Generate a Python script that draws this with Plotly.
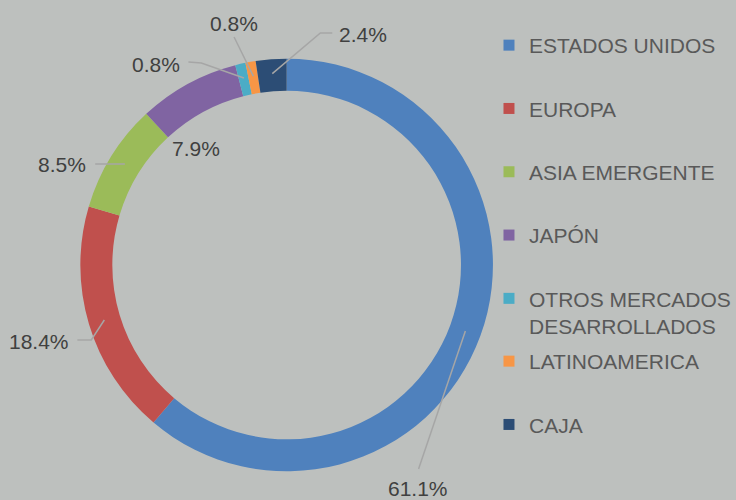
import math
import plotly.graph_objects as go

# ---- data ----
categories = ["ESTADOS UNIDOS", "EUROPA", "ASIA EMERGENTE", "JAPÓN",
              "OTROS MERCADOS<br>DESARROLLADOS", "LATINOAMERICA", "CAJA"]
values = [61.1, 18.4, 8.5, 7.9, 0.8, 0.8, 2.4]
colors = ["#4F81BD", "#C0504D", "#9BBB59", "#8064A2", "#4BACC6", "#F79646", "#2C4D75"]

# ---- layout helpers (pixel positions of value labels and leader lines) ----
label_pos = [(421, 488), (39, 341), (63, 164), (198, 148), (157, 64), (236, 23), (366, 34)]
leader_start = [(422, 469), (78, 340), (96, 164), None, (190, 62), (236, 37), (335, 33)]
leader_elbow = [None, (92, 340), None, None, (203, 63), None, (323, 33)]

W, H = 736, 500
cx, cy, R = 289, 265, 208
hole = 0.845
bg = "#BDC0BE"
FONT = "Liberation Sans, Arial, sans-serif"


def px2paper(p):
    return p[0] / W, 1 - p[1] / H


fig = go.Figure()
fig.add_trace(go.Pie(
    labels=categories, values=values, sort=False, direction="clockwise",
    rotation=0, hole=hole, textinfo="none", hoverinfo="skip",
    marker=dict(colors=colors, line=dict(width=0)),
    showlegend=False,
    domain=dict(x=[(cx - R) / W, (cx + R) / W], y=[1 - (cy + R) / H, 1 - (cy - R) / H]),
))

# legend entries (dummy traces, one group each so they can be spaced)
for i, (cat, col) in enumerate(zip(categories, colors)):
    fig.add_trace(go.Scatter(
        x=[None], y=[None], mode="markers", name=cat,
        marker=dict(symbol="square", size=11, color=col, line=dict(width=0)),
        legendgroup=f"g{i}", legend="legend" if i < 5 else "legend2",
        hoverinfo="skip",
    ))

# value labels with leader lines ending at the slice middles
total = sum(values)
rm = R * (1 + hole) / 2
cum = 0.0
annotations = []
shapes = []
for v, lp, ls, le in zip(values, label_pos, leader_start, leader_elbow):
    theta = 2 * math.pi * (cum + v / 2) / total
    cum += v
    pt = (cx + rm * math.sin(theta), cy - rm * math.cos(theta))
    lx, ly = px2paper(lp)
    annotations.append(dict(
        x=lx, y=ly, xref="paper", yref="paper", xanchor="center", yanchor="middle",
        text=f"{v:.1f}%", showarrow=False,
        font=dict(family=FONT, size=21, color="#404040"),
    ))
    if ls is not None:
        pts = [ls] + ([le] if le is not None else []) + [pt]
        path = "M " + " L ".join("{:.5f},{:.5f}".format(*px2paper(p)) for p in pts)
        shapes.append(dict(type="path", path=path, xref="paper", yref="paper",
                           line=dict(color="#A6A6A6", width=1.5)))

legend_common = dict(
    font=dict(family=FONT, size=21, color="#595959"),
    bgcolor="rgba(0,0,0,0)", borderwidth=0, valign="top",
    tracegroupgap=33, itemclick=False, itemdoubleclick=False,
    xanchor="left", yanchor="top",
)

fig.update_layout(
    width=W, height=H,
    margin=dict(l=0, r=0, t=0, b=0),
    paper_bgcolor=bg, plot_bgcolor=bg,
    xaxis=dict(visible=False), yaxis=dict(visible=False),
    annotations=annotations, shapes=shapes,
    legend=dict(x=493 / W, y=1 - 25 / H, **legend_common),
    legend2=dict(x=493 / W, y=1 - 341 / H, **legend_common),
    hovermode=False,
)

fig.write_html("out.html")
